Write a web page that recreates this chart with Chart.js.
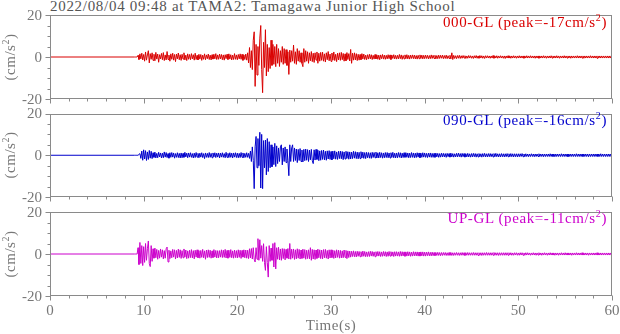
<!DOCTYPE html>
<html>
<head>
<meta charset="utf-8">
<script src="https://cdn.jsdelivr.net/npm/chart.js@4/dist/chart.umd.min.js"></script>
<style>
  html, body { margin: 0; padding: 0; background: #fff; }
  #wrap { position: relative; width: 620px; height: 334px; overflow: hidden; font-family: "Liberation Serif", "DejaVu Serif", serif; }
  canvas { position: absolute; left: 0; }
  .title { position: absolute; left: 50px; top: -2px; font-size: 15px; line-height: 17px; color: #555; letter-spacing: 0.7px; white-space: nowrap; }
  .tag { position: absolute; right: 13px; font-size: 15px; white-space: nowrap; letter-spacing: 0.6px; }
  .tag sup, .ytitle sup { font-size: 10px; vertical-align: 6px; line-height: 0; }
  .ytitle { position: absolute; left: 10px; font-size: 15px; color: #777; white-space: nowrap; transform: translate(-50%, -50%) rotate(-90deg); letter-spacing: 0.5px; }
  .xtitle { position: absolute; left: 331px; top: 325px; transform: translate(-50%, -50%); font-size: 15px; color: #777; letter-spacing: 0.5px; }
</style>
</head>
<body>
<div id="wrap">
  <div class="title">2022/08/04 09:48 at TAMA2: Tamagawa Junior High School</div>
  <canvas id="c0" width="620" height="110" style="top:0px"></canvas>
  <canvas id="c1" width="620" height="110" style="top:100px"></canvas>
  <canvas id="c2" width="620" height="134" style="top:200px"></canvas>
  <div class="tag" style="top:14px; color:#d90000">000-GL (peak=-17cm/s<sup>2</sup>)</div>
  <div class="tag" style="top:112px; color:#0000cc">090-GL (peak=-16cm/s<sup>2</sup>)</div>
  <div class="tag" style="top:210px; color:#cc00cc">UP-GL (peak=-11cm/s<sup>2</sup>)</div>
  <div class="ytitle" style="top:57px">(cm/s<sup>2</sup>)</div>
  <div class="ytitle" style="top:155px">(cm/s<sup>2</sup>)</div>
  <div class="ytitle" style="top:254px">(cm/s<sup>2</sup>)</div>
  <div class="xtitle">Time(s)</div>
</div>
<script>
// Acceleration records (cm/s^2), sampled every 0.1 s from 9.0 s; quiet (zero) before that.
const recordStart = 0;
const sampleStart = 9.0;
const sampleStep = 0.1;
const timeTicks = [0, 10, 20, 30, 40, 50, 60];
const accelTicks = [-20, 0, 20];

// 000-GL (N-S)
const ns = [
  0,0,0,0,0.8,-1.2,1.5,-0.9,1.8,-1.4,
  1.2,-2.0,2.4,-1.5,1.0,3.0,-2.8,1.6,-1.1,2.0,
  -1.6,1.3,-1.8,2.2,-1.0,1.4,-2.5,1.1,-0.9,1.7,
  -1.3,2.1,-1.7,1.0,-1.4,2.6,-1.2,0.9,-2.0,1.5,
  -1.1,1.8,-1.5,1.2,-2.2,1.4,-0.9,1.9,-1.3,1.1,
  -1.6,1.3,-1.0,2.0,-1.4,0.9,-1.7,1.5,-1.1,1.2,
  -1.3,1.6,-0.9,1.1,-1.5,1.8,-1.2,0.8,-1.4,1.3,
  -1.0,1.2,-1.6,0.9,-1.1,1.5,-1.3,1.0,-0.8,1.4,
  -1.2,0.9,-1.4,1.1,-1.0,1.3,-0.9,1.6,-1.2,1.0,
  -1.1,1.4,-0.9,1.2,-1.3,1.0,-1.5,1.1,-0.8,1.3,
  -1.2,1.5,-1.0,1.1,-1.4,0.9,-1.2,1.6,-1.1,1.0,
  -1.3,1.2,-0.9,1.5,-1.1,1.3,-1.6,1.0,-1.2,1.4,
  -1.5,2.0,-2.8,4.5,-5.0,3.0,-6.0,8.0,12.0,-14.0,
  6.0,-8.6,5.0,-4.0,9.0,15.0,-6.0,-17.0,7.0,-5.0,
  13.0,-9.0,6.0,-7.0,4.5,-5.5,8.0,-4.0,6.0,-3.5,
  5.0,-4.6,6.0,-3.0,4.0,-4.5,3.0,-2.5,5.0,-3.5,
  4.0,-3.0,3.5,-4.0,2.5,-8.3,3.3,-2.5,3.0,-2.0,
  5.7,-3.0,2.5,-3.5,4.0,-2.0,3.0,-2.5,2.0,-3.0,
  -4.6,4.0,-2.5,3.0,-2.0,2.5,-3.0,2.0,-1.8,2.6,
  -2.2,1.8,-2.6,2.0,-1.5,2.4,-3.0,1.8,-2.0,2.2,
  -1.6,2.3,-2.0,1.5,-2.4,2.0,-1.3,2.6,-1.8,1.4,
  -2.1,1.9,-1.5,2.4,-1.7,1.3,-2.2,1.8,-1.4,2.0,
  -1.6,2.2,-1.3,1.7,-2.0,1.5,-1.8,2.1,-1.2,1.6,
  -1.9,3.6,-3.0,1.8,-1.5,2.0,-1.4,1.6,-1.7,1.3,
  -1.5,1.2,-1.3,1.6,-1.0,1.4,-1.2,0.9,-1.3,1.1,
  -1.0,1.3,-0.9,1.1,-1.2,0.8,-1.0,1.2,-0.9,1.0,
  -1.1,0.9,-1.3,1.0,-0.8,1.2,-1.0,0.9,-1.1,0.8,
  -0.9,1.1,-0.8,1.0,-1.2,0.9,-0.7,1.1,-0.9,0.8,
  -1.0,0.8,-0.9,1.2,-0.8,1.0,-1.1,0.7,-0.9,1.0,
  -0.8,1.1,-0.9,0.8,-1.0,0.9,-0.7,1.0,-0.8,0.9,
  -0.9,0.7,-1.0,0.8,-0.8,1.0,-0.7,0.9,-0.9,0.8,
  -0.8,0.9,-0.7,0.8,-0.9,0.7,-0.8,1.0,-0.7,0.8,
  -0.7,0.8,-0.9,0.7,-0.8,0.9,-0.7,0.8,-0.6,0.9,
  -0.8,0.7,-0.7,0.9,-0.8,0.6,-0.7,0.8,-0.9,2.0,
  -1.2,0.8,-0.7,0.6,-0.8,0.7,-0.6,0.8,-0.7,0.6,
  -0.6,0.7,-0.5,0.6,-0.7,0.5,-0.6,0.7,-0.5,0.6,
  -0.6,0.5,-0.7,0.6,-0.5,0.7,-0.6,0.5,-0.6,0.7,
  -0.5,0.6,-0.6,0.5,-0.7,0.6,-0.5,0.6,-0.5,0.5,
  -0.6,0.5,-0.5,0.7,-0.6,0.5,-0.5,0.6,-0.6,0.5,
  -0.5,0.6,-0.5,0.5,-0.6,0.5,-0.7,0.5,-0.5,0.6,
  -0.5,0.5,-0.6,0.5,-0.5,0.6,-0.5,0.5,-0.6,0.5,
  -0.5,0.6,-0.5,0.5,-0.5,0.5,-0.6,0.5,-0.5,0.6,
  -0.5,0.5,-0.5,0.6,-0.5,0.5,-0.5,0.5,-0.6,0.5,
  -0.5,0.5,-0.6,0.5,-0.5,0.5,-0.5,0.6,-0.5,0.5,
  -0.6,0.5,-0.5,0.5,-0.5,0.6,-0.5,0.5,-0.5,0.5,
  -0.5,0.6,-0.5,0.5,-0.6,0.5,-0.5,0.5,-0.5,0.6,
  -0.5,0.5,-0.5,0.5,-0.5,0.5,-0.6,0.5,-0.5,0.5,
  -0.5,0.5,-0.5,0.6,-0.5,0.5,-0.5,0.5,-0.5,0.5,
  -0.6,0.5,-0.5,0.5,-0.5,0.5,-0.5,0.6,-0.5,0.5,
  -0.5,0.5,-0.5,0.5,-0.6,0.5,-0.5,0.5,-0.5,0.5,
  -0.5,0.5,-0.5,0.5,-0.5,0.5,-0.5,0.5,-0.5,0.5,
  0
];

// 090-GL (E-W)
const ew = [
  0,0,0,0,0,0,0.8,-1.5,2.0,-2.4,
  2.6,-1.8,2.2,-2.5,1.6,-2.0,2.3,-1.4,1.9,-1.6,
  1.2,-1.0,1.5,-1.3,0.9,-1.2,1.4,-0.8,1.1,-1.3,
  1.0,-1.2,1.6,-0.9,1.3,-1.1,0.8,-1.4,1.2,-1.0,
  1.3,-0.9,1.1,-1.4,0.8,-1.0,1.2,-1.1,0.9,-1.3,
  1.1,-1.2,0.9,-1.0,1.4,-0.8,1.0,-1.2,1.1,-0.9,
  1.2,-1.0,0.8,-1.3,1.0,-1.1,1.3,-0.9,0.9,-1.2,
  1.0,-0.9,1.2,-1.1,0.8,-1.6,1.1,-1.0,0.9,-1.1,
  1.3,-1.0,0.9,-1.2,1.1,-0.8,1.2,-1.1,1.0,-0.9,
  1.1,-1.3,1.0,-0.9,1.2,-1.0,0.8,-1.2,1.4,-1.0,
  0.9,-1.1,1.2,-1.0,1.0,-1.3,1.1,-0.9,1.2,-1.1,
  1.0,-1.2,0.9,-1.1,1.3,-1.0,1.1,-1.2,0.9,-1.0,
  1.2,-1.0,0.9,-1.5,2.0,-3.0,4.0,-2.5,-16.0,4.0,
  9.0,-6.0,8.0,-5.0,11.0,-15.7,10.0,-16.0,7.0,-6.0,
  7.3,-9.4,8.0,-7.8,6.5,-6.0,5.0,-5.5,4.0,-4.5,
  5.7,-5.4,4.5,-4.0,3.5,-3.0,4.0,5.0,-4.6,3.5,
  -3.0,4.0,-3.5,3.0,-2.5,-9.8,5.0,-3.0,3.5,5.0,
  -3.0,3.5,-2.5,3.0,-3.5,2.8,-2.5,3.2,-3.0,2.5,
  -3.2,2.8,-2.6,3.0,-2.4,2.7,-3.0,2.5,-2.2,2.8,
  -2.5,-4.0,2.6,-2.3,2.8,-2.0,2.4,-2.6,2.1,-2.4,
  2.3,-2.0,2.5,-2.2,1.9,-2.4,2.1,-1.8,2.2,-2.0,
  1.8,-2.2,2.0,-1.7,2.1,-1.9,1.6,-2.0,1.9,-1.6,
  2.0,-1.7,1.8,-2.1,1.6,-1.8,1.9,-1.5,1.7,-1.9,
  1.6,-1.8,1.5,-1.6,1.9,-1.4,1.7,-1.6,1.5,-1.7,
  1.4,-1.6,1.7,-1.3,1.5,-1.5,1.3,-1.6,1.4,-1.2,
  1.3,-1.4,1.2,-1.5,1.4,-1.1,1.3,-1.2,1.5,-1.3,
  1.2,-1.3,1.4,-1.1,1.2,-1.4,1.1,-1.2,1.3,-1.1,
  1.3,-1.2,1.1,-1.3,1.2,-1.0,1.4,-1.2,1.0,-1.3,
  1.1,-1.2,1.3,-1.0,1.2,-1.3,1.0,-1.1,1.2,-1.0,
  1.2,-1.0,1.1,-1.2,1.0,-1.1,1.3,-1.0,1.1,-1.2,
  1.0,-1.1,1.2,-0.9,1.1,-1.2,1.0,-1.0,1.2,-0.9,
  1.1,-1.0,0.9,-1.1,1.0,-0.9,1.1,-1.0,0.9,-1.0,
  0.9,-1.0,1.0,-0.8,0.9,-1.0,0.8,-0.9,1.0,-0.8,
  0.9,-0.8,0.8,-1.0,0.9,-0.7,0.8,-0.9,1.0,-0.8,
  0.8,-0.9,0.7,-0.8,0.9,-0.8,1.0,-0.7,0.8,-0.9,
  0.9,-0.7,0.8,-0.9,0.7,-0.8,0.9,-0.8,0.7,-0.9,
  0.8,-0.8,0.9,-0.7,0.8,-0.9,0.7,-0.8,0.8,-0.7,
  0.7,-0.9,0.8,-0.7,0.9,-0.8,0.7,-0.8,0.8,-0.7,
  0.8,-0.7,0.7,-0.8,0.8,-0.7,0.9,-0.7,0.7,-0.8,
  0.7,-0.8,0.8,-0.7,0.7,-0.8,0.7,-0.7,0.8,-0.7,
  0.7,-0.7,0.8,-0.7,0.7,-0.8,0.7,-0.7,0.7,-0.8,
  0.7,-0.7,0.7,-0.6,0.8,-0.7,0.6,-0.7,0.7,-0.6,
  0.6,-0.7,0.6,-0.6,0.7,-0.6,0.6,-0.7,0.6,-0.6,
  0.6,-0.6,0.7,-0.6,0.6,-0.6,0.6,-0.7,0.6,-0.6,
  0.6,-0.6,0.6,-0.6,0.7,-0.6,0.6,-0.6,0.6,-0.7,
  0.6,-0.6,0.6,-0.6,0.6,-0.6,0.7,-0.6,0.6,-0.6,
  0.6,-0.6,0.6,-0.7,0.6,-0.6,0.6,-0.6,0.6,-0.6,
  0.6,-0.6,0.7,-0.6,0.6,-0.6,0.6,-0.6,0.6,-0.6,
  0.6,-0.6,0.6,-0.6,0.6,-0.7,0.6,-0.6,0.6,-0.6,
  0.6,-0.6,0.6,-0.6,0.6,-0.6,0.6,-0.6,0.7,-0.6,
  0.6,-0.6,0.6,-0.6,0.6,-0.6,0.6,-0.6,0.6,-0.6,
  0
];

// UP-GL (vertical)
const ud = [
  0,0,0,0,3.0,-5.0,5.5,-4.5,4.0,-5.5,
  3.5,-4.0,5.0,-3.0,2.5,6.2,-4.5,-6.0,4.0,-3.5,
  2.5,-2.0,2.8,-1.8,2.2,-2.5,1.7,-2.0,2.4,-1.5,
  2.0,-2.3,1.6,-2.0,2.5,3.3,-3.8,1.8,-2.2,1.5,
  -1.8,2.2,-1.5,2.0,-2.4,1.7,-1.9,2.3,-1.6,2.0,
  -2.1,1.6,-1.8,2.4,-1.5,1.9,-2.2,1.5,-2.0,1.8,
  -1.7,2.1,-1.9,1.6,-2.3,1.8,-1.5,2.0,-1.8,1.6,
  -2.0,1.7,-1.6,2.2,-1.8,1.5,-2.5,1.9,-1.7,2.0,
  -1.6,1.8,-2.0,1.5,-1.7,2.1,-1.5,1.7,-1.9,1.6,
  -1.8,1.6,-1.5,2.0,-1.7,1.8,-1.6,2.2,-1.9,1.7,
  -2.0,1.8,-1.6,2.1,-1.8,1.5,-2.0,1.9,-1.7,1.6,
  -1.9,2.0,-1.6,1.8,-2.1,1.7,-1.5,2.0,-1.8,1.9,
  -2.0,1.8,-2.2,2.5,-1.9,2.6,-2.4,3.0,-2.5,-3.8,
  3.0,-2.5,7.3,-3.0,6.8,-2.0,4.0,-3.5,4.9,-4.0,
  -7.8,3.5,-4.0,-11.0,4.0,-3.5,2.8,-3.0,5.0,-6.2,
  5.4,-7.1,3.0,-2.5,3.2,-2.8,2.4,-3.0,2.6,-2.2,
  2.5,-2.8,2.2,-2.0,2.6,-2.4,5.0,-2.5,2.3,-2.0,
  2.4,-2.6,2.0,-2.3,2.5,-2.0,2.2,-2.4,1.9,-2.1,
  2.3,-2.0,2.1,-2.5,1.8,-2.2,2.0,-2.3,3.0,-3.0,
  2.2,-2.4,2.0,-2.6,1.9,-2.1,2.3,-1.8,2.0,-2.2,
  1.9,-2.3,2.1,-1.8,2.2,-2.0,1.7,-2.4,2.0,-1.9,
  2.0,-1.7,1.8,-2.1,1.6,-1.9,2.0,-1.6,1.8,-2.0,
  1.7,-1.9,1.5,-1.8,1.9,-1.6,1.7,-2.2,1.5,-1.7,
  1.4,-1.5,1.3,-1.2,1.5,-1.3,1.2,-1.4,1.3,-1.1,
  1.2,-1.3,1.1,-1.2,1.4,-1.1,1.2,-1.3,1.0,-1.2,
  1.1,-1.2,1.3,-1.0,1.2,-1.1,1.0,-1.3,1.1,-1.0,
  1.2,-1.0,1.1,-1.2,1.0,-1.1,1.2,-1.0,1.1,-1.2,
  1.0,-1.1,1.2,-1.0,1.1,-1.0,1.0,-1.2,1.1,-1.0,
  1.1,-1.0,1.0,-1.1,1.2,-1.0,1.1,-0.9,1.0,-1.1,
  1.0,-1.0,1.1,-0.9,1.0,-1.1,0.9,-1.0,1.1,-0.9,
  1.0,-0.9,1.0,-1.0,0.9,-1.0,1.0,-0.9,1.0,-1.0,
  0.9,-1.0,0.9,-0.8,1.0,-0.9,0.8,-0.9,0.9,-0.8,
  0.7,-0.8,0.7,-0.7,0.8,-0.7,0.7,-0.8,0.7,-0.7,
  0.7,-0.6,0.7,-0.7,0.6,-0.7,0.7,-0.6,0.7,-0.7,
  0.6,-0.7,0.6,-0.6,0.7,-0.6,0.6,-0.7,0.6,-0.6,
  0.7,-0.6,0.6,-0.7,0.6,-0.6,0.7,-0.6,0.6,-0.6,
  0.6,-0.6,0.7,-0.6,0.6,-0.6,0.6,-0.7,0.6,-0.6,
  0.6,-0.7,0.6,-0.6,0.6,-0.6,0.7,-0.6,0.6,-0.6,
  0.6,-0.6,0.6,-0.6,0.7,-0.6,0.6,-0.6,0.6,-0.7,
  0.6,-0.6,0.6,-0.6,0.6,-0.6,0.6,-0.6,0.6,-0.6,
  0.6,-0.5,0.6,-0.6,0.5,-0.6,0.6,-0.5,0.6,-0.6,
  0.5,-0.6,0.6,-0.5,0.6,-0.6,0.5,-0.6,0.6,-0.5,
  0.6,-0.5,0.5,-0.6,0.5,-0.5,0.6,-0.5,0.5,-0.6,
  0.5,-0.5,0.6,-0.5,0.5,-0.6,0.5,-0.5,0.6,-0.5,
  0.5,-0.6,0.5,-0.5,0.6,-0.5,0.5,-0.5,0.5,-0.6,
  0.5,-0.5,0.5,-0.6,0.5,-0.5,0.6,-0.5,0.5,-0.5,
  0.6,-0.5,0.5,-0.5,0.5,-0.5,0.5,-0.6,0.5,-0.5,
  0.5,-0.5,0.6,-0.5,0.5,-0.5,0.5,-0.5,0.6,-0.5,
  0.5,-0.5,0.5,-0.5,0.5,-0.6,0.5,-0.5,0.5,-0.5,
  0.5,-0.5,0.5,-0.5,0.6,-0.5,0.5,-0.5,0.5,-0.5,
  0.5,-0.5,0.5,-0.5,0.5,-0.5,0.5,-0.5,0.5,-0.5,
  0
];

const components = [
  { id: 'c0', values: ns, color: '#d90000', padTop: 15,   axisH: 11, showTime: false },
  { id: 'c1', values: ew, color: '#0000cc', padTop: 13.5, axisH: 13, showTime: false },
  { id: 'c2', values: ud, color: '#cc00cc', padTop: 12,   axisH: 38, showTime: true  }
];

const labelFont = "15px 'Liberation Serif', 'DejaVu Serif', serif";
const labelColor = '#777';

// Frame around each panel, outward tick marks and the tick labels.
const frameTicks = {
  id: 'frameTicks',
  afterDatasetsDraw(chart, args, opts) {
    const { ctx, chartArea: a, scales } = chart;
    const x = scales.x, y = scales.y;
    ctx.save();
    ctx.strokeStyle = '#8a8a8a';
    ctx.lineWidth = 1;
    const l = Math.round(a.left) + 0.5, r = Math.round(a.right) - 0.5;
    const t = Math.round(a.top) + 0.5, b = Math.round(a.bottom) - 0.5;
    ctx.strokeRect(l, t, r - l, b - t);
    ctx.beginPath();
    for (let s = 0; s <= 60; s += 2) {
      const px = Math.round(x.getPixelForValue(s)) + 0.5;
      const len = s % 10 === 0 ? 5 : 3;
      ctx.moveTo(px, b);
      ctx.lineTo(px, b + len);
    }
    for (let v = -20; v <= 20; v += 5) {
      const py = Math.round(y.getPixelForValue(v)) + 0.5;
      const len = v % 20 === 0 ? 5 : 3;
      ctx.moveTo(l - len, py);
      ctx.lineTo(l, py);
    }
    ctx.stroke();

    ctx.font = labelFont;
    ctx.fillStyle = labelColor;
    ctx.textAlign = 'right';
    ctx.textBaseline = 'middle';
    accelTicks.forEach(v => ctx.fillText(String(v), a.left - 8, y.getPixelForValue(v) + 1));
    if (opts.showTime) {
      ctx.textAlign = 'center';
      timeTicks.forEach(s => ctx.fillText(String(s), x.getPixelForValue(s), a.bottom + 15));
    }
    ctx.restore();
  }
};

components.forEach(c => {
  const points = [{ x: recordStart, y: 0 }].concat(
    c.values.map((v, i) => ({ x: sampleStart + i * sampleStep, y: v }))
  );
  new Chart(document.getElementById(c.id), {
    type: 'line',
    data: {
      datasets: [{
        data: points,
        borderColor: c.color,
        borderWidth: 1,
        pointRadius: 0,
        tension: 0,
        fill: false
      }]
    },
    options: {
      responsive: false,
      animation: false,
      parsing: false,
      normalized: true,
      devicePixelRatio: 1,
      layout: { padding: { top: c.padTop, right: 8, left: 0, bottom: 0 } },
      plugins: {
        legend: { display: false },
        tooltip: { enabled: false },
        frameTicks: { showTime: c.showTime }
      },
      scales: {
        x: {
          type: 'linear',
          min: timeTicks[0],
          max: timeTicks[timeTicks.length - 1],
          afterFit(scale) { scale.height = c.axisH; },
          grid: { display: false, drawTicks: false },
          border: { display: false },
          ticks: { display: false }
        },
        y: {
          min: accelTicks[0],
          max: accelTicks[accelTicks.length - 1],
          afterFit(scale) { scale.width = 50; },
          grid: { display: false, drawTicks: false },
          border: { display: false },
          ticks: { display: false }
        }
      }
    },
    plugins: [frameTicks]
  });
});
</script>
</body>
</html>
